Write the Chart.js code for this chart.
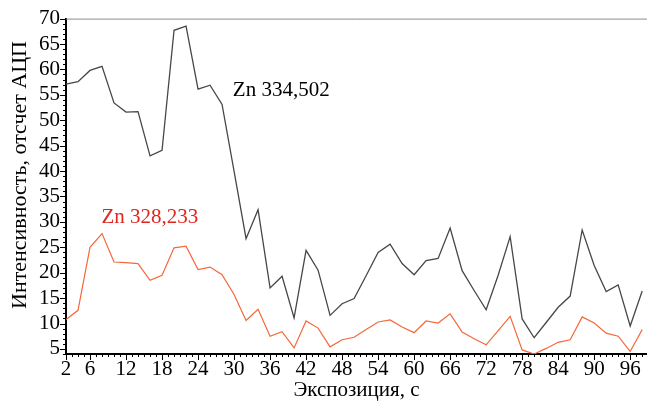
<!DOCTYPE html>
<html><head><meta charset="utf-8">
<script src="https://cdn.jsdelivr.net/npm/chart.js@4.4.1/dist/chart.umd.min.js"></script>
<style>html,body{margin:0;padding:0;background:#fff;overflow:hidden}#wrap{width:647px;height:403px;position:relative}</style>
</head><body><div id="wrap"><canvas id="c" width="647" height="403"></canvas></div>
<script>
// ---- data ----
const exposure = [2,4,6,8,10,12,14,16,18,20,22,24,26,28,30,32,34,36,38,40,42,44,46,48,50,52,54,56,58,60,62,64,66,68,70,72,74,76,78,80,82,84,86,88,90,92,94,96,98];
const zn334 = [57.1,57.6,59.8,60.6,53.4,51.6,51.7,43.0,44.1,67.7,68.5,56.1,56.9,53.1,40.0,26.7,32.4,17.0,19.3,11.1,24.4,20.5,11.6,13.9,14.9,19.4,24.0,25.6,21.8,19.6,22.4,22.8,28.8,20.4,16.5,12.7,19.5,27.1,10.9,7.2,10.2,13.2,15.4,28.4,21.4,16.3,17.6,9.5,16.4];
const zn328 = [10.8,12.6,25.0,27.7,22.1,22.0,21.8,18.5,19.5,24.9,25.2,20.6,21.1,19.6,15.7,10.6,12.8,7.5,8.4,5.2,10.5,9.1,5.4,6.8,7.3,8.8,10.3,10.7,9.3,8.2,10.5,10.1,11.9,8.3,7.0,5.8,8.6,11.4,4.8,4.0,5.1,6.3,6.8,11.3,10.1,8.1,7.5,4.5,8.8];
const seriesNames = ['Zn 334,502', 'Zn 328,233'];
const xTickLabels = [2,6,12,18,24,30,36,42,48,54,60,66,72,78,84,90,96];
const yTickLabels = [5,10,15,20,25,30,35,40,45,50,55,60,65,70];
const xTitle = 'Экспозиция, с';
const yTitle = 'Интенсивность, отсчет АЦП';

// ---- presentation ----
const FONT = 'Liberation Serif, "Times New Roman", serif';
const labelAnchors = [{x: 29.8, y: 55.9, color: '#000000'}, {x: 7.9, y: 30.9, color: '#e0261e'}];
const yTitlePos = {x: 20, y: 175};

const axisMarks = {
  id: 'axisMarks',
  afterDraw(chart) {
    const {ctx, chartArea: a, scales: {x, y}} = chart;
    ctx.save();
    ctx.lineWidth = 1;
    ctx.strokeStyle = '#8c8c8c';
    ctx.beginPath(); ctx.moveTo(a.left, a.top + 0.5); ctx.lineTo(a.right, a.top + 0.5); ctx.stroke();
    ctx.strokeStyle = '#000';
    ctx.beginPath();
    for (let v = Math.ceil(y.min); v <= y.max; v++) {
      const py = Math.round(y.getPixelForValue(v)) + 0.5;
      const len = yTickLabels.includes(v) ? 6 : 3;
      ctx.moveTo(a.left - len, py); ctx.lineTo(a.left, py);
    }
    for (let v = Math.ceil(x.min); v <= x.max; v++) {
      const px = Math.round(x.getPixelForValue(v)) + 0.5;
      const len = xTickLabels.includes(v) ? 6 : 3;
      ctx.moveTo(px, a.bottom); ctx.lineTo(px, a.bottom + len);
    }
    ctx.stroke();
    ctx.font = '21px ' + FONT;
    ctx.textBaseline = 'middle';
    ctx.textAlign = 'left';
    labelAnchors.forEach((p, i) => {
      ctx.fillStyle = p.color;
      ctx.fillText(seriesNames[i], x.getPixelForValue(p.x), y.getPixelForValue(p.y));
    });
    // y axis title
    ctx.translate(yTitlePos.x, yTitlePos.y);
    ctx.rotate(-Math.PI / 2);
    ctx.textAlign = 'center';
    ctx.fillStyle = '#000';
    ctx.font = '22px ' + FONT;
    ctx.fillText(yTitle, 0, 0);
    ctx.restore();
  }
};

new Chart(document.getElementById('c'), {
  type: 'line',
  data: {
    datasets: [
      {label: seriesNames[0], data: exposure.map((t, i) => ({x: t, y: zn334[i]})), borderColor: '#474747', borderWidth: 1.3, pointRadius: 0, tension: 0},
      {label: seriesNames[1], data: exposure.map((t, i) => ({x: t, y: zn328[i]})), borderColor: '#f4683b', borderWidth: 1.2, pointRadius: 0, tension: 0}
    ]
  },
  options: {
    responsive: false, animation: false, events: [],
    layout: {padding: {top: 18, right: 0, bottom: 0, left: 0}},
    plugins: {legend: {display: false}, tooltip: {enabled: false}},
    scales: {
      x: {
        type: 'linear', min: 2, max: 98.8,
        afterBuildTicks: s => { s.ticks = xTickLabels.map(v => ({value: v})); },
        afterFit: s => { s.height = 49; },
        grid: {display: false, drawTicks: false},
        border: {display: true, color: '#000', width: 2},
        ticks: {color: '#000', font: {family: FONT, size: 21}, padding: 3, maxRotation: 0, autoSkip: false},
        title: {display: true, text: xTitle, color: '#000', font: {family: FONT, size: 21}, padding: {top: 0, bottom: 0}}
      },
      y: {
        type: 'linear', min: 4, max: 70,
        afterBuildTicks: s => { s.ticks = yTickLabels.map(v => ({value: v})); },
        afterFit: s => { s.width = 66; },
        grid: {display: false, drawTicks: false},
        border: {display: true, color: '#000', width: 2},
        ticks: {color: '#000', font: {family: FONT, size: 21}, padding: 6, autoSkip: false},
        title: {display: false, text: yTitle}
      }
    }
  },
  plugins: [axisMarks]
});
</script></body></html>
